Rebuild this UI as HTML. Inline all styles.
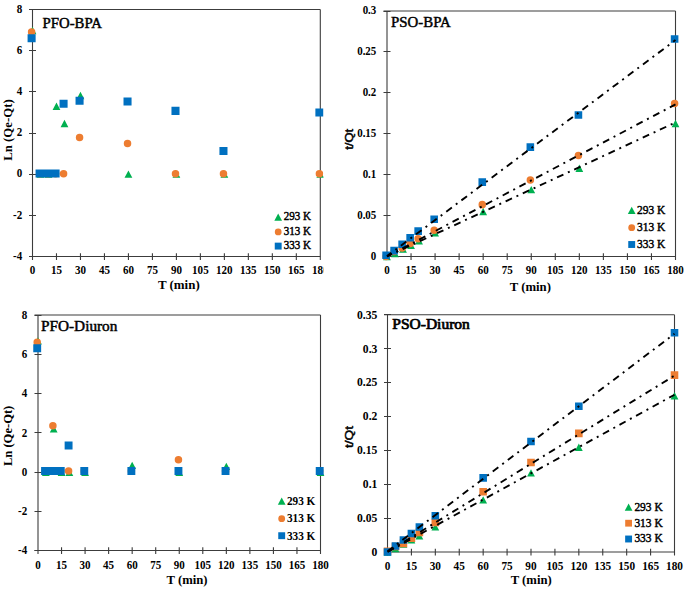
<!DOCTYPE html>
<html><head><meta charset="utf-8"><title>Kinetic plots</title>
<style>
html,body{margin:0;padding:0;background:#fff;}
body{width:685px;height:589px;overflow:hidden;font-family:"Liberation Serif",serif;}
svg{display:block;}
</style></head><body>
<svg width="685" height="589" viewBox="0 0 685 589" font-family='"Liberation Serif", serif' font-weight="bold">
<style>path[stroke]{fill:none;stroke-width:1.1}text{fill:#000}text.s{font-weight:normal;stroke:#000;stroke-width:0.45px}</style>
<defs><clipPath id="cp0"><rect x="0" y="0" width="323.5" height="300"/></clipPath></defs>
<g clip-path="url(#cp0)">
<path d="M29 9.5H320.3" stroke="#3c3c3c"/>
<path d="M320.3 9.5V260" stroke="#3c3c3c"/>
<path d="M32.5 9.5V260" stroke="#3c3c3c"/>
<path d="M29 256.5H320.3" stroke="#3c3c3c"/>
<path d="M29 9.5H36M29 50.5H36M29 91.5H36M29 133.5H36M29 174.5H36M29 215.5H36M29 256.5H36" stroke="#3c3c3c"/>
<path d="M56.48 253.2V260M80.47 253.2V260M104.45 253.2V260M128.43 253.2V260M152.42 253.2V260M176.4 253.2V260M200.38 253.2V260M224.37 253.2V260M248.35 253.2V260M272.33 253.2V260M296.32 253.2V260" stroke="#3c3c3c"/>
<text x="22.3" y="12.75" text-anchor="end" font-size="11.5" textLength="5.52" lengthAdjust="spacingAndGlyphs">8</text>
<text x="22.3" y="53.92" text-anchor="end" font-size="11.5" textLength="5.52" lengthAdjust="spacingAndGlyphs">6</text>
<text x="22.3" y="95.09" text-anchor="end" font-size="11.5" textLength="5.52" lengthAdjust="spacingAndGlyphs">4</text>
<text x="22.3" y="136.25" text-anchor="end" font-size="11.5" textLength="5.52" lengthAdjust="spacingAndGlyphs">2</text>
<text x="22.3" y="177.42" text-anchor="end" font-size="11.5" textLength="5.52" lengthAdjust="spacingAndGlyphs">0</text>
<text x="22.3" y="218.59" text-anchor="end" font-size="11.5" textLength="9.2" lengthAdjust="spacingAndGlyphs">-2</text>
<text x="22.3" y="259.75" text-anchor="end" font-size="11.5" textLength="9.2" lengthAdjust="spacingAndGlyphs">-4</text>
<text x="32.5" y="274" text-anchor="middle" font-size="11.5" textLength="5.52" lengthAdjust="spacingAndGlyphs">0</text>
<text x="56.48" y="274" text-anchor="middle" font-size="11.5" textLength="11.04" lengthAdjust="spacingAndGlyphs">15</text>
<text x="80.47" y="274" text-anchor="middle" font-size="11.5" textLength="11.04" lengthAdjust="spacingAndGlyphs">30</text>
<text x="104.45" y="274" text-anchor="middle" font-size="11.5" textLength="11.04" lengthAdjust="spacingAndGlyphs">45</text>
<text x="128.43" y="274" text-anchor="middle" font-size="11.5" textLength="11.04" lengthAdjust="spacingAndGlyphs">60</text>
<text x="152.42" y="274" text-anchor="middle" font-size="11.5" textLength="11.04" lengthAdjust="spacingAndGlyphs">75</text>
<text x="176.4" y="274" text-anchor="middle" font-size="11.5" textLength="11.04" lengthAdjust="spacingAndGlyphs">90</text>
<text x="200.38" y="274" text-anchor="middle" font-size="11.5" textLength="16.56" lengthAdjust="spacingAndGlyphs">105</text>
<text x="224.37" y="274" text-anchor="middle" font-size="11.5" textLength="16.56" lengthAdjust="spacingAndGlyphs">120</text>
<text x="248.35" y="274" text-anchor="middle" font-size="11.5" textLength="16.56" lengthAdjust="spacingAndGlyphs">135</text>
<text x="272.33" y="274" text-anchor="middle" font-size="11.5" textLength="16.56" lengthAdjust="spacingAndGlyphs">150</text>
<text x="296.32" y="274" text-anchor="middle" font-size="11.5" textLength="16.56" lengthAdjust="spacingAndGlyphs">165</text>
<text x="320.3" y="274" text-anchor="middle" font-size="11.5" textLength="16.56" lengthAdjust="spacingAndGlyphs">180</text>
<text x="178.8" y="289.2" text-anchor="middle" font-size="13" textLength="41.8" lengthAdjust="spacingAndGlyphs">T (min)</text>
<text transform="translate(12.3 130) rotate(-90)" text-anchor="middle" font-size="13" textLength="61.7" lengthAdjust="spacingAndGlyphs">Ln (Qe-Qt)</text>
<text x="42.6" y="28.1" font-size="14" class="s" textLength="59.3" lengthAdjust="spacingAndGlyphs">PFO-BPA</text>
<path d="M32.5 26.83L36.4 34.16L28.6 34.16ZM40.49 170.5L44.39 177.83L36.59 177.83ZM48.49 170.5L52.39 177.83L44.59 177.83ZM56.48 102.58L60.38 109.91L52.58 109.91ZM64.48 119.87L68.38 127.2L60.58 127.2ZM80.47 91.87L84.37 99.2L76.57 99.2ZM128.43 170.5L132.33 177.83L124.53 177.83ZM176.4 170.5L180.3 177.83L172.5 177.83ZM224.37 170.5L228.27 177.83L220.47 177.83ZM320.3 170.5L324.2 177.83L316.4 177.83Z" fill="#00B050"/>
<path d="M27.85 32.05a3.75 3.75 0 1 1 7.5 0a3.75 3.75 0 1 1 -7.5 0ZM35.84 173.67a3.75 3.75 0 1 1 7.5 0a3.75 3.75 0 1 1 -7.5 0ZM43.84 173.67a3.75 3.75 0 1 1 7.5 0a3.75 3.75 0 1 1 -7.5 0ZM51.83 173.67a3.75 3.75 0 1 1 7.5 0a3.75 3.75 0 1 1 -7.5 0ZM59.83 173.67a3.75 3.75 0 1 1 7.5 0a3.75 3.75 0 1 1 -7.5 0ZM75.82 137.44a3.75 3.75 0 1 1 7.5 0a3.75 3.75 0 1 1 -7.5 0ZM123.78 143.41a3.75 3.75 0 1 1 7.5 0a3.75 3.75 0 1 1 -7.5 0ZM171.75 173.67a3.75 3.75 0 1 1 7.5 0a3.75 3.75 0 1 1 -7.5 0ZM219.72 173.67a3.75 3.75 0 1 1 7.5 0a3.75 3.75 0 1 1 -7.5 0ZM315.65 173.67a3.75 3.75 0 1 1 7.5 0a3.75 3.75 0 1 1 -7.5 0Z" fill="#ED7D31"/>
<path d="M27.58 34.21h8.05v8.05h-8.05ZM35.57 169.44h8.05v8.05h-8.05ZM43.56 169.44h8.05v8.05h-8.05ZM51.56 169.44h8.05v8.05h-8.05ZM59.55 99.66h8.05v8.05h-8.05ZM75.54 96.78h8.05v8.05h-8.05ZM123.51 97.4h8.05v8.05h-8.05ZM171.47 106.87h8.05v8.05h-8.05ZM219.44 147.01h8.05v8.05h-8.05ZM315.38 108.52h8.05v8.05h-8.05Z" fill="#0070C0"/>
<path d="M278.2 213.58L282.05 220.82L274.35 220.82Z" fill="#00B050"/>
<text x="283.7" y="220.2" font-size="12" class="s" textLength="27.3" lengthAdjust="spacingAndGlyphs">293 K</text>
<circle cx="278.2" cy="231.9" r="3.4" fill="#ED7D31"/>
<text x="283.7" y="234.8" font-size="12" class="s" textLength="27.3" lengthAdjust="spacingAndGlyphs">313 K</text>
<rect x="274.75" y="242.65" width="6.9" height="6.9" fill="#0070C0"/>
<text x="283.7" y="249.2" font-size="12" class="s" textLength="27.3" lengthAdjust="spacingAndGlyphs">333 K</text>
</g>
<g>
<path d="M383.5 11H675.5" stroke="#3c3c3c"/>
<path d="M675.5 11V260" stroke="#3c3c3c"/>
<path d="M387 11V260" stroke="#3c3c3c"/>
<path d="M383.5 256.5H675.5" stroke="#3c3c3c"/>
<path d="M383.5 11.5H390.5M383.5 51.5H390.5M383.5 92.5H390.5M383.5 133.5H390.5M383.5 174.5H390.5M383.5 215.5H390.5M383.5 256.5H390.5" stroke="#3c3c3c"/>
<path d="M411.04 253.2V260M435.08 253.2V260M459.12 253.2V260M483.17 253.2V260M507.21 253.2V260M531.25 253.2V260M555.29 253.2V260M579.33 253.2V260M603.38 253.2V260M627.42 253.2V260M651.46 253.2V260" stroke="#3c3c3c"/>
<text x="376.3" y="14.25" text-anchor="end" font-size="11.5" textLength="13.66" lengthAdjust="spacingAndGlyphs">0.3</text>
<text x="376.3" y="55.17" text-anchor="end" font-size="11.5" textLength="19.12" lengthAdjust="spacingAndGlyphs">0.25</text>
<text x="376.3" y="96.09" text-anchor="end" font-size="11.5" textLength="13.66" lengthAdjust="spacingAndGlyphs">0.2</text>
<text x="376.3" y="137" text-anchor="end" font-size="11.5" textLength="19.12" lengthAdjust="spacingAndGlyphs">0.15</text>
<text x="376.3" y="177.92" text-anchor="end" font-size="11.5" textLength="13.66" lengthAdjust="spacingAndGlyphs">0.1</text>
<text x="376.3" y="218.84" text-anchor="end" font-size="11.5" textLength="19.12" lengthAdjust="spacingAndGlyphs">0.05</text>
<text x="376.3" y="259.75" text-anchor="end" font-size="11.5" textLength="5.46" lengthAdjust="spacingAndGlyphs">0</text>
<text x="387" y="274.2" text-anchor="middle" font-size="11.5" textLength="5.52" lengthAdjust="spacingAndGlyphs">0</text>
<text x="411.04" y="274.2" text-anchor="middle" font-size="11.5" textLength="11.04" lengthAdjust="spacingAndGlyphs">15</text>
<text x="435.08" y="274.2" text-anchor="middle" font-size="11.5" textLength="11.04" lengthAdjust="spacingAndGlyphs">30</text>
<text x="459.12" y="274.2" text-anchor="middle" font-size="11.5" textLength="11.04" lengthAdjust="spacingAndGlyphs">45</text>
<text x="483.17" y="274.2" text-anchor="middle" font-size="11.5" textLength="11.04" lengthAdjust="spacingAndGlyphs">60</text>
<text x="507.21" y="274.2" text-anchor="middle" font-size="11.5" textLength="11.04" lengthAdjust="spacingAndGlyphs">75</text>
<text x="531.25" y="274.2" text-anchor="middle" font-size="11.5" textLength="11.04" lengthAdjust="spacingAndGlyphs">90</text>
<text x="555.29" y="274.2" text-anchor="middle" font-size="11.5" textLength="16.56" lengthAdjust="spacingAndGlyphs">105</text>
<text x="579.33" y="274.2" text-anchor="middle" font-size="11.5" textLength="16.56" lengthAdjust="spacingAndGlyphs">120</text>
<text x="603.38" y="274.2" text-anchor="middle" font-size="11.5" textLength="16.56" lengthAdjust="spacingAndGlyphs">135</text>
<text x="627.42" y="274.2" text-anchor="middle" font-size="11.5" textLength="16.56" lengthAdjust="spacingAndGlyphs">150</text>
<text x="651.46" y="274.2" text-anchor="middle" font-size="11.5" textLength="16.56" lengthAdjust="spacingAndGlyphs">165</text>
<text x="675.5" y="274.2" text-anchor="middle" font-size="11.5" textLength="16.56" lengthAdjust="spacingAndGlyphs">180</text>
<text x="530.3" y="290.6" text-anchor="middle" font-size="13" textLength="41.2" lengthAdjust="spacingAndGlyphs">T (min)</text>
<text transform="translate(352.6 139.3) rotate(-90)" text-anchor="middle" font-size="11.5" font-family='"Liberation Sans", sans-serif' class="s" textLength="21" lengthAdjust="spacingAndGlyphs">t/Qt</text>
<text x="391.1" y="26.9" font-size="14" class="s" textLength="59.7" lengthAdjust="spacingAndGlyphs">PSO-BPA</text>
<path d="M387 252.83L390.9 260.17L383.1 260.17ZM395.01 249.97L398.91 257.3L391.11 257.3ZM403.03 245.47L406.93 252.8L399.13 252.8ZM411.04 241.79L414.94 249.12L407.14 249.12ZM419.06 237.29L422.96 244.62L415.16 244.62ZM435.08 229.1L438.98 236.43L431.18 236.43ZM483.17 207.83L487.07 215.16L479.27 215.16ZM531.25 185.89L535.15 193.23L527.35 193.23ZM579.33 164.62L583.23 171.95L575.43 171.95ZM675.5 119.85L679.4 127.19L671.6 127.19Z" fill="#00B050"/>
<path d="M382.35 256.5a3.75 3.75 0 1 1 7.5 0a3.75 3.75 0 1 1 -7.5 0ZM390.36 251.43a3.75 3.75 0 1 1 7.5 0a3.75 3.75 0 1 1 -7.5 0ZM398.38 247.99a3.75 3.75 0 1 1 7.5 0a3.75 3.75 0 1 1 -7.5 0ZM406.39 243.57a3.75 3.75 0 1 1 7.5 0a3.75 3.75 0 1 1 -7.5 0ZM414.41 238.82a3.75 3.75 0 1 1 7.5 0a3.75 3.75 0 1 1 -7.5 0ZM430.43 230.23a3.75 3.75 0 1 1 7.5 0a3.75 3.75 0 1 1 -7.5 0ZM478.52 204.62a3.75 3.75 0 1 1 7.5 0a3.75 3.75 0 1 1 -7.5 0ZM526.6 179.9a3.75 3.75 0 1 1 7.5 0a3.75 3.75 0 1 1 -7.5 0ZM574.68 155.6a3.75 3.75 0 1 1 7.5 0a3.75 3.75 0 1 1 -7.5 0ZM670.85 103.47a3.75 3.75 0 1 1 7.5 0a3.75 3.75 0 1 1 -7.5 0Z" fill="#ED7D31"/>
<path d="M382.3 251.47h7.6v7.6h-7.6ZM390.31 246.81h7.6v7.6h-7.6ZM398.33 240.51h7.6v7.6h-7.6ZM406.34 233.96h7.6v7.6h-7.6ZM414.36 227.33h7.6v7.6h-7.6ZM430.38 215.38h7.6v7.6h-7.6ZM478.47 178.31h7.6v7.6h-7.6ZM526.55 143.37h7.6v7.6h-7.6ZM574.63 111.13h7.6v7.6h-7.6ZM670.8 35.27h7.6v7.6h-7.6Z" fill="#0070C0"/>
<path d="M387 256.5L675.5 122.44" stroke="#000" style="stroke-width:1.9;stroke-dasharray:7 4.95 2 4.95;stroke-dashoffset:1.48"/>
<path d="M387 256.5L675.5 104.34" stroke="#000" style="stroke-width:1.9;stroke-dasharray:7 4.95 2 4.95;stroke-dashoffset:1.49"/>
<path d="M387 256.08L675.5 40.08" stroke="#000" style="stroke-width:1.9;stroke-dasharray:7 4.95 2 4.95;stroke-dashoffset:1.56"/>
<path d="M631.7 206.68L635.55 213.92L627.85 213.92Z" fill="#00B050"/>
<text x="637.1" y="213.7" font-size="12" class="s" textLength="28.3" lengthAdjust="spacingAndGlyphs">293 K</text>
<circle cx="631.7" cy="227.7" r="3.4" fill="#ED7D31"/>
<text x="637.1" y="230.7" font-size="12" class="s" textLength="28.3" lengthAdjust="spacingAndGlyphs">313 K</text>
<rect x="628.25" y="241.05" width="6.9" height="6.9" fill="#0070C0"/>
<text x="637.1" y="247.5" font-size="12" class="s" textLength="28.3" lengthAdjust="spacingAndGlyphs">333 K</text>
</g>
<g>
<path d="M34.5 315H320.5" stroke="#3c3c3c"/>
<path d="M320.5 315V554" stroke="#3c3c3c"/>
<path d="M38 315V554" stroke="#3c3c3c"/>
<path d="M34.5 550.5H320.5" stroke="#3c3c3c"/>
<path d="M34.5 315.5H41.5M34.5 354.5H41.5M34.5 393.5H41.5M34.5 432.5H41.5M34.5 472.5H41.5M34.5 511.5H41.5M34.5 550.5H41.5" stroke="#3c3c3c"/>
<path d="M61.54 547.2V554M85.08 547.2V554M108.62 547.2V554M132.17 547.2V554M155.71 547.2V554M179.25 547.2V554M202.79 547.2V554M226.33 547.2V554M249.88 547.2V554M273.42 547.2V554M296.96 547.2V554" stroke="#3c3c3c"/>
<text x="27.2" y="318.85" text-anchor="end" font-size="11.5" textLength="5.52" lengthAdjust="spacingAndGlyphs">8</text>
<text x="27.2" y="358.1" text-anchor="end" font-size="11.5" textLength="5.52" lengthAdjust="spacingAndGlyphs">6</text>
<text x="27.2" y="397.35" text-anchor="end" font-size="11.5" textLength="5.52" lengthAdjust="spacingAndGlyphs">4</text>
<text x="27.2" y="436.6" text-anchor="end" font-size="11.5" textLength="5.52" lengthAdjust="spacingAndGlyphs">2</text>
<text x="27.2" y="475.85" text-anchor="end" font-size="11.5" textLength="5.52" lengthAdjust="spacingAndGlyphs">0</text>
<text x="27.2" y="515.1" text-anchor="end" font-size="11.5" textLength="9.2" lengthAdjust="spacingAndGlyphs">-2</text>
<text x="27.2" y="554.35" text-anchor="end" font-size="11.5" textLength="9.2" lengthAdjust="spacingAndGlyphs">-4</text>
<text x="38" y="568.8" text-anchor="middle" font-size="11.5" textLength="5.52" lengthAdjust="spacingAndGlyphs">0</text>
<text x="61.54" y="568.8" text-anchor="middle" font-size="11.5" textLength="11.04" lengthAdjust="spacingAndGlyphs">15</text>
<text x="85.08" y="568.8" text-anchor="middle" font-size="11.5" textLength="11.04" lengthAdjust="spacingAndGlyphs">30</text>
<text x="108.62" y="568.8" text-anchor="middle" font-size="11.5" textLength="11.04" lengthAdjust="spacingAndGlyphs">45</text>
<text x="132.17" y="568.8" text-anchor="middle" font-size="11.5" textLength="11.04" lengthAdjust="spacingAndGlyphs">60</text>
<text x="155.71" y="568.8" text-anchor="middle" font-size="11.5" textLength="11.04" lengthAdjust="spacingAndGlyphs">75</text>
<text x="179.25" y="568.8" text-anchor="middle" font-size="11.5" textLength="11.04" lengthAdjust="spacingAndGlyphs">90</text>
<text x="202.79" y="568.8" text-anchor="middle" font-size="11.5" textLength="16.56" lengthAdjust="spacingAndGlyphs">105</text>
<text x="226.33" y="568.8" text-anchor="middle" font-size="11.5" textLength="16.56" lengthAdjust="spacingAndGlyphs">120</text>
<text x="249.88" y="568.8" text-anchor="middle" font-size="11.5" textLength="16.56" lengthAdjust="spacingAndGlyphs">135</text>
<text x="273.42" y="568.8" text-anchor="middle" font-size="11.5" textLength="16.56" lengthAdjust="spacingAndGlyphs">150</text>
<text x="296.96" y="568.8" text-anchor="middle" font-size="11.5" textLength="16.56" lengthAdjust="spacingAndGlyphs">165</text>
<text x="320.5" y="568.8" text-anchor="middle" font-size="11.5" textLength="16.56" lengthAdjust="spacingAndGlyphs">180</text>
<text x="187" y="583.6" text-anchor="middle" font-size="13" textLength="41" lengthAdjust="spacingAndGlyphs">T (min)</text>
<text transform="translate(12.3 435.9) rotate(-90)" text-anchor="middle" font-size="13" textLength="60.3" lengthAdjust="spacingAndGlyphs">Ln (Qe-Qt)</text>
<text x="41" y="330.8" font-size="14" class="s" textLength="76.4" lengthAdjust="spacingAndGlyphs">PFO-Diuron</text>
<path d="M38 337.15L41.9 344.48L34.1 344.48ZM45.85 468.63L49.75 475.97L41.95 475.97ZM53.69 425.26L57.59 432.59L49.79 432.59ZM61.54 468.63L65.44 475.97L57.64 475.97ZM69.39 468.63L73.29 475.97L65.49 475.97ZM85.08 468.63L88.98 475.97L81.18 475.97ZM132.17 461.77L136.07 469.1L128.27 469.1ZM179.25 468.63L183.15 475.97L175.35 475.97ZM226.33 462.75L230.23 470.08L222.43 470.08ZM320.5 468.63L324.4 475.97L316.6 475.97Z" fill="#00B050"/>
<path d="M33.45 342.26a3.75 3.75 0 1 1 7.5 0a3.75 3.75 0 1 1 -7.5 0ZM41.3 471a3.75 3.75 0 1 1 7.5 0a3.75 3.75 0 1 1 -7.5 0ZM49.14 425.67a3.75 3.75 0 1 1 7.5 0a3.75 3.75 0 1 1 -7.5 0ZM56.99 471a3.75 3.75 0 1 1 7.5 0a3.75 3.75 0 1 1 -7.5 0ZM64.84 471a3.75 3.75 0 1 1 7.5 0a3.75 3.75 0 1 1 -7.5 0ZM80.53 471a3.75 3.75 0 1 1 7.5 0a3.75 3.75 0 1 1 -7.5 0ZM127.62 471a3.75 3.75 0 1 1 7.5 0a3.75 3.75 0 1 1 -7.5 0ZM174.7 459.81a3.75 3.75 0 1 1 7.5 0a3.75 3.75 0 1 1 -7.5 0ZM221.78 471a3.75 3.75 0 1 1 7.5 0a3.75 3.75 0 1 1 -7.5 0ZM315.95 471a3.75 3.75 0 1 1 7.5 0a3.75 3.75 0 1 1 -7.5 0Z" fill="#ED7D31"/>
<path d="M33.25 344.3h7.9v7.9h-7.9ZM41.1 467.05h7.9v7.9h-7.9ZM48.94 467.05h7.9v7.9h-7.9ZM56.79 467.05h7.9v7.9h-7.9ZM64.64 441.54h7.9v7.9h-7.9ZM80.33 467.05h7.9v7.9h-7.9ZM127.42 467.05h7.9v7.9h-7.9ZM174.5 467.05h7.9v7.9h-7.9ZM221.58 467.05h7.9v7.9h-7.9ZM315.75 467.05h7.9v7.9h-7.9Z" fill="#0070C0"/>
<path d="M281.7 497.58L285.55 504.82L277.85 504.82Z" fill="#00B050"/>
<text x="286.9" y="505.1" font-size="12" textLength="28.5" lengthAdjust="spacingAndGlyphs">293 K</text>
<circle cx="281.7" cy="518.7" r="3.4" fill="#ED7D31"/>
<text x="286.9" y="522.1" font-size="12" textLength="28.5" lengthAdjust="spacingAndGlyphs">313 K</text>
<rect x="278.25" y="532.25" width="6.9" height="6.9" fill="#0070C0"/>
<text x="286.9" y="539.6" font-size="12" textLength="28.5" lengthAdjust="spacingAndGlyphs">333 K</text>
</g>
<g>
<path d="M384 314.8H674.5" stroke="#3c3c3c"/>
<path d="M674.5 314.8V555.5" stroke="#3c3c3c"/>
<path d="M387.5 314.8V555.5" stroke="#3c3c3c"/>
<path d="M384 552H674.5" stroke="#3c3c3c"/>
<path d="M384 314.5H391M384 348.5H391M384 382.5H391M384 416.5H391M384 450.5H391M384 484.5H391M384 518.5H391M384 552.5H391" stroke="#3c3c3c"/>
<path d="M411.42 548.7V555.5M435.33 548.7V555.5M459.25 548.7V555.5M483.17 548.7V555.5M507.08 548.7V555.5M531 548.7V555.5M554.92 548.7V555.5M578.83 548.7V555.5M602.75 548.7V555.5M626.67 548.7V555.5M650.58 548.7V555.5" stroke="#3c3c3c"/>
<text x="377.4" y="318.69" text-anchor="end" font-size="12.5" textLength="20.34" lengthAdjust="spacingAndGlyphs">0.35</text>
<text x="377.4" y="352.57" text-anchor="end" font-size="12.5" textLength="14.53" lengthAdjust="spacingAndGlyphs">0.3</text>
<text x="377.4" y="386.46" text-anchor="end" font-size="12.5" textLength="20.34" lengthAdjust="spacingAndGlyphs">0.25</text>
<text x="377.4" y="420.34" text-anchor="end" font-size="12.5" textLength="14.53" lengthAdjust="spacingAndGlyphs">0.2</text>
<text x="377.4" y="454.23" text-anchor="end" font-size="12.5" textLength="20.34" lengthAdjust="spacingAndGlyphs">0.15</text>
<text x="377.4" y="488.12" text-anchor="end" font-size="12.5" textLength="14.53" lengthAdjust="spacingAndGlyphs">0.1</text>
<text x="377.4" y="522" text-anchor="end" font-size="12.5" textLength="20.34" lengthAdjust="spacingAndGlyphs">0.05</text>
<text x="377.4" y="555.89" text-anchor="end" font-size="12.5" textLength="5.81" lengthAdjust="spacingAndGlyphs">0</text>
<text x="387.5" y="570.2" text-anchor="middle" font-size="11.5" textLength="5.63" lengthAdjust="spacingAndGlyphs">0</text>
<text x="411.42" y="570.2" text-anchor="middle" font-size="11.5" textLength="11.27" lengthAdjust="spacingAndGlyphs">15</text>
<text x="435.33" y="570.2" text-anchor="middle" font-size="11.5" textLength="11.27" lengthAdjust="spacingAndGlyphs">30</text>
<text x="459.25" y="570.2" text-anchor="middle" font-size="11.5" textLength="11.27" lengthAdjust="spacingAndGlyphs">45</text>
<text x="483.17" y="570.2" text-anchor="middle" font-size="11.5" textLength="11.27" lengthAdjust="spacingAndGlyphs">60</text>
<text x="507.08" y="570.2" text-anchor="middle" font-size="11.5" textLength="11.27" lengthAdjust="spacingAndGlyphs">75</text>
<text x="531" y="570.2" text-anchor="middle" font-size="11.5" textLength="11.27" lengthAdjust="spacingAndGlyphs">90</text>
<text x="554.92" y="570.2" text-anchor="middle" font-size="11.5" textLength="16.91" lengthAdjust="spacingAndGlyphs">105</text>
<text x="578.83" y="570.2" text-anchor="middle" font-size="11.5" textLength="16.91" lengthAdjust="spacingAndGlyphs">120</text>
<text x="602.75" y="570.2" text-anchor="middle" font-size="11.5" textLength="16.91" lengthAdjust="spacingAndGlyphs">135</text>
<text x="626.67" y="570.2" text-anchor="middle" font-size="11.5" textLength="16.91" lengthAdjust="spacingAndGlyphs">150</text>
<text x="650.58" y="570.2" text-anchor="middle" font-size="11.5" textLength="16.91" lengthAdjust="spacingAndGlyphs">165</text>
<text x="674.5" y="570.2" text-anchor="middle" font-size="11.5" textLength="16.91" lengthAdjust="spacingAndGlyphs">180</text>
<text x="531.2" y="584.2" text-anchor="middle" font-size="13" textLength="41" lengthAdjust="spacingAndGlyphs">T (min)</text>
<text transform="translate(352.6 437) rotate(-90)" text-anchor="middle" font-size="11.5" font-family='"Liberation Sans", sans-serif' class="s" textLength="22" lengthAdjust="spacingAndGlyphs">t/Qt</text>
<text x="392.3" y="329" font-size="14" class="s" style="stroke-width:0.7px" textLength="77.5" lengthAdjust="spacingAndGlyphs">PSO-Diuron</text>
<path d="M387.5 548.33L391.4 555.67L383.6 555.67ZM395.47 544.81L399.37 552.14L391.57 552.14ZM403.44 540.54L407.34 547.87L399.54 547.87ZM411.42 536.14L415.32 543.47L407.52 543.47ZM419.39 532.07L423.29 539.4L415.49 539.4ZM435.33 523.26L439.23 530.59L431.43 530.59ZM483.17 496.15L487.07 503.48L479.27 503.48ZM531 469.24L534.9 476.58L527.1 476.58ZM578.83 443.56L582.73 450.89L574.93 450.89ZM674.5 392.12L678.4 399.45L670.6 399.45Z" fill="#00B050"/>
<path d="M383.7 547.52h7.6v7.6h-7.6ZM391.67 542.64h7.6v7.6h-7.6ZM399.64 539.53h7.6v7.6h-7.6ZM407.62 534.51h7.6v7.6h-7.6ZM415.59 528.55h7.6v7.6h-7.6ZM431.53 518.72h7.6v7.6h-7.6ZM479.37 487.88h7.6v7.6h-7.6ZM527.2 458.74h7.6v7.6h-7.6ZM575.03 429.6h7.6v7.6h-7.6ZM670.7 371.32h7.6v7.6h-7.6Z" fill="#ED7D31"/>
<path d="M383.7 548.2h7.6v7.6h-7.6ZM391.67 542.24h7.6v7.6h-7.6ZM399.64 536.14h7.6v7.6h-7.6ZM407.62 529.63h7.6v7.6h-7.6ZM415.59 523.19h7.6v7.6h-7.6ZM431.53 511.94h7.6v7.6h-7.6ZM479.37 474.06h7.6v7.6h-7.6ZM527.2 437.73h7.6v7.6h-7.6ZM575.03 402.49h7.6v7.6h-7.6ZM670.7 328.89h7.6v7.6h-7.6Z" fill="#0070C0"/>
<path d="M387.5 552L674.5 394.75" stroke="#000" style="stroke-width:1.9;stroke-dasharray:7 4.95 2 4.95;stroke-dashoffset:0.1"/>
<path d="M387.5 552L674.5 375.6" stroke="#000" style="stroke-width:1.9;stroke-dasharray:7 4.95 2 4.95;stroke-dashoffset:18.38"/>
<path d="M387.5 551.27L674.5 333.73" stroke="#000" style="stroke-width:1.9;stroke-dasharray:7 4.95 2 4.95;stroke-dashoffset:0.22"/>
<path d="M628.6 503.58L632.45 510.82L624.75 510.82Z" fill="#00B050"/>
<text x="634.4" y="510.6" font-size="12" class="s" textLength="28.3" lengthAdjust="spacingAndGlyphs">293 K</text>
<rect x="625.2" y="519.8" width="6.8" height="6.8" fill="#ED7D31"/>
<text x="634.4" y="526.8" font-size="12" class="s" textLength="28.3" lengthAdjust="spacingAndGlyphs">313 K</text>
<rect x="625.15" y="535.55" width="6.9" height="6.9" fill="#0070C0"/>
<text x="634.4" y="542.4" font-size="12" class="s" textLength="28.3" lengthAdjust="spacingAndGlyphs">333 K</text>
</g>
</svg>
</body></html>
